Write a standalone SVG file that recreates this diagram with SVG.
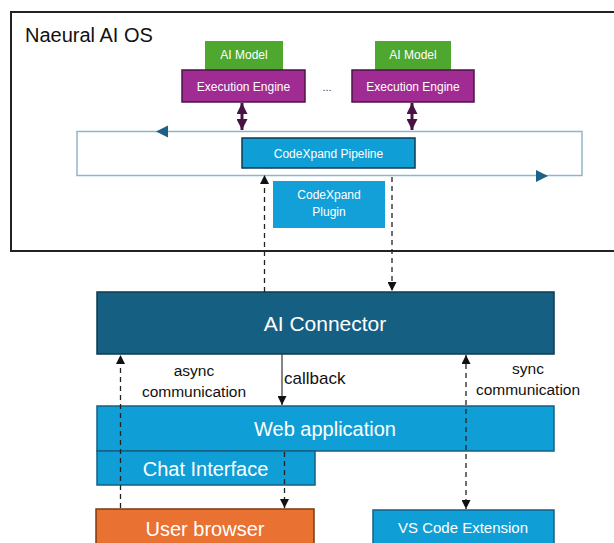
<svg xmlns="http://www.w3.org/2000/svg" width="614" height="543" viewBox="0 0 614 543">
<style>
text{font-family:"Liberation Sans",Arial,sans-serif}
.w{fill:#fff;text-anchor:middle}
.k{fill:#111;text-anchor:middle}
.dash{stroke:#222;stroke-width:1.3;stroke-dasharray:5,4;fill:none}
</style>
<defs>
<marker id="ah" viewBox="0 0 10 10" refX="10" refY="5" markerWidth="9" markerHeight="9" markerUnits="userSpaceOnUse" orient="auto-start-reverse"><path d="M0,0L10,5L0,10z" fill="#111"/></marker>
<marker id="ap" viewBox="0 0 10 10" refX="10" refY="5" markerWidth="11" markerHeight="11" markerUnits="userSpaceOnUse" orient="auto-start-reverse"><path d="M0,0L10,5L0,10z" fill="#4a1242"/></marker>
</defs>
<rect x="0" y="0" width="614" height="543" fill="#fff"/>
<g id="os">
<rect x="11" y="12" width="620" height="239" fill="none" stroke="#222" stroke-width="2"/>
<text x="25" y="42" font-size="20" fill="#111">Naeural AI OS</text>
</g>
<g id="loop">
<rect x="77" y="131.5" width="505" height="44" fill="none" stroke="#8db6cc" stroke-width="1.5"/>
<path d="M168,125.5L156,131.5L168,137.5z" fill="#1b6286"/>
<path d="M536,170L548,176L536,182z" fill="#1b6286"/>
</g>
<g id="model1"><rect x="205" y="41" width="78" height="29" fill="#4ea72e"/><text class="w" x="244" y="59" font-size="12">AI Model</text></g>
<g id="model2"><rect x="375" y="41" width="76" height="29" fill="#4ea72e"/><text class="w" x="413" y="59" font-size="12">AI Model</text></g>
<g id="engine1"><rect x="182" y="70" width="123" height="32" fill="#a02b93" stroke="#4d1447" stroke-width="1.5"/><text class="w" x="243.5" y="90.5" font-size="12">Execution Engine</text></g>
<g id="engine2"><rect x="352" y="70" width="122" height="32" fill="#a02b93" stroke="#4d1447" stroke-width="1.5"/><text class="w" x="413" y="90.5" font-size="12">Execution Engine</text></g>
<text x="327" y="91" font-size="11" fill="#444" text-anchor="middle">...</text>
<g id="pipeline"><rect x="242" y="138" width="173" height="30" fill="#0f9ed5" stroke="#0e3a50" stroke-width="1.5"/><text class="w" x="328.5" y="157.5" font-size="12">CodeXpand Pipeline</text></g>
<g id="plugin"><rect x="273" y="181" width="112" height="47" fill="#13a0d8"/><text class="w" x="329" y="199" font-size="12">CodeXpand</text><text class="w" x="329" y="216" font-size="12">Plugin</text></g>
<g id="connector"><rect x="97" y="292" width="457" height="62" fill="#156082" stroke="#0e3a50" stroke-width="1.5"/><text class="w" x="325" y="331" font-size="21">AI Connector</text></g>
<g id="webapp"><rect x="97" y="406" width="457" height="45" fill="#0f9ed5" stroke="#156082" stroke-width="1.5"/><text class="w" x="325" y="436" font-size="20">Web application</text></g>
<g id="chat"><rect x="97" y="451" width="218" height="34" fill="#0f9ed5" stroke="#156082" stroke-width="1.5"/><text class="w" x="205.5" y="476" font-size="20">Chat Interface</text></g>
<g id="browser"><rect x="96" y="509" width="218" height="40" fill="#e97132" stroke="#7a3a10" stroke-width="1.5"/><text class="w" x="205" y="536" font-size="20">User browser</text></g>
<g id="vscode"><rect x="373" y="510" width="181" height="40" fill="#0f9ed5" stroke="#156082" stroke-width="1.5"/><text class="w" x="463" y="533" font-size="15">VS Code Extension</text></g>
<g id="connectors">
<line x1="242" y1="103" x2="242" y2="130" stroke="#4a1242" stroke-width="3" marker-start="url(#ap)" marker-end="url(#ap)"/>
<line x1="412" y1="103" x2="412" y2="130" stroke="#4a1242" stroke-width="3" marker-start="url(#ap)" marker-end="url(#ap)"/>
<line class="dash" x1="264.5" y1="292" x2="264.5" y2="175" marker-end="url(#ah)"/>
<line class="dash" x1="392" y1="177" x2="392" y2="291" marker-end="url(#ah)"/>
<line class="dash" x1="120.5" y1="508" x2="120.5" y2="355" marker-end="url(#ah)"/>
<line x1="282" y1="354" x2="282" y2="405" stroke="#444" stroke-width="1.3" marker-end="url(#ah)"/>
<line class="dash" x1="284.5" y1="452" x2="284.5" y2="508" marker-end="url(#ah)"/>
<line class="dash" x1="466" y1="355" x2="466" y2="509" marker-start="url(#ah)" marker-end="url(#ah)"/>
<text class="k" x="194" y="376" font-size="15.5">async</text>
<text class="k" x="194" y="397" font-size="15.5">communication</text>
<text x="284" y="384" font-size="17" fill="#111">callback</text>
<text class="k" x="528" y="374" font-size="15.5">sync</text>
<text class="k" x="528" y="395" font-size="15.5">communication</text>
</g>
</svg>
